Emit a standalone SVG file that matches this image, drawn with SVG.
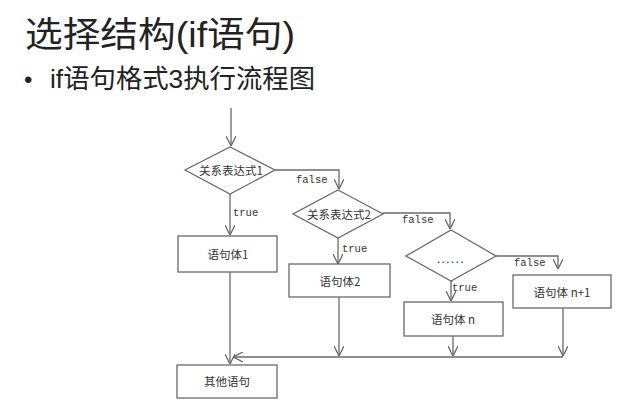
<svg xmlns="http://www.w3.org/2000/svg" width="631" height="417" viewBox="0 0 631 417">
<style>
.title{font-family:"Liberation Sans","Noto Sans CJK SC",sans-serif;fill:#222}
.box{fill:#fff;stroke:#6a6a6a;stroke-width:1.3}
.cn{font-family:"Noto Sans CJK SC",sans-serif;font-size:11.5px;fill:#333;text-anchor:middle;dominant-baseline:central}
.lbl{font-family:"Liberation Mono","Noto Sans CJK SC",monospace;font-size:10.5px;fill:#333}
.ln{fill:none;stroke:#6a6a6a;stroke-width:1.3}
</style>
<defs>
<marker id="ah" viewBox="0 0 10 10" refX="10" refY="5" markerWidth="10" markerHeight="10" markerUnits="userSpaceOnUse" orient="auto">
<path d="M0,0 L10,5 L0,10" fill="none" stroke="#6a6a6a" stroke-width="1.3"/>
</marker>
</defs>
<rect width="631" height="417" fill="#fff"/>
<text class="title" x="25" y="47" font-size="35" textLength="270" lengthAdjust="spacingAndGlyphs">选择结构(if语句)</text>
<text class="title" x="24" y="88" font-size="24">•</text>
<text class="title" x="50" y="88" font-size="26.5" textLength="265" lengthAdjust="spacingAndGlyphs">if语句格式3执行流程图</text>

<g id="connectors">
<line class="ln" x1="231" y1="108" x2="231" y2="146" marker-end="url(#ah)"/>
<line class="ln" x1="230" y1="194" x2="230" y2="235" marker-end="url(#ah)"/>
<polyline class="ln" points="275,170 339,170 339,189" marker-end="url(#ah)"/>
<line class="ln" x1="338" y1="238" x2="338" y2="264" marker-end="url(#ah)"/>
<polyline class="ln" points="383,213 450,213 450,229" marker-end="url(#ah)"/>
<line class="ln" x1="451" y1="281" x2="451" y2="301" marker-end="url(#ah)"/>
<polyline class="ln" points="496,256 558,256 558,269" marker-end="url(#ah)"/>
<line class="ln" x1="230" y1="272" x2="230" y2="364" marker-end="url(#ah)"/>
<line class="ln" x1="339" y1="297" x2="339" y2="356" marker-end="url(#ah)"/>
<line class="ln" x1="453" y1="336" x2="453" y2="356" marker-end="url(#ah)"/>
<line class="ln" x1="563" y1="308" x2="563" y2="356" marker-end="url(#ah)"/>
<line class="ln" x1="563" y1="357" x2="233" y2="357" marker-end="url(#ah)"/>
<text class="lbl" x="233" y="216">true</text>
<text class="lbl" x="296" y="183">false</text>
<text class="lbl" x="342" y="252">true</text>
<text class="lbl" x="402" y="223">false</text>
<text class="lbl" x="452" y="291">true</text>
<text class="lbl" x="514" y="266">false</text>
</g>

<g id="cond1">
<polygon class="box" points="230,147 275,170 230,194 185,170"/>
<text class="cn" x="231" y="170">关系表达式1</text>
</g>
<g id="body1">
<rect class="box" x="178" y="236" width="99" height="36"/>
<text class="cn" x="228" y="254">语句体1</text>
</g>
<g id="cond2">
<polygon class="box" points="338,190 383,214 338,238 293,214"/>
<text class="cn" x="339" y="214">关系表达式2</text>
</g>
<g id="body2">
<rect class="box" x="289" y="264" width="101" height="33"/>
<text class="cn" x="340" y="281">语句体2</text>
</g>
<g id="cond3">
<polygon class="box" points="451,230 496,256 451,281 406,256"/>
<text class="cn" x="451" y="258" letter-spacing="1.5">......</text>
</g>
<g id="bodyn">
<rect class="box" x="404" y="302" width="99" height="34"/>
<text class="cn" x="453" y="319">语句体 n</text>
</g>
<g id="bodyn1">
<rect class="box" x="513" y="275" width="98" height="33"/>
<text class="cn" x="562" y="292">语句体 n+1</text>
</g>
<g id="other">
<rect class="box" x="177" y="365" width="100" height="33"/>
<text class="cn" x="227" y="381">其他语句</text>
</g>
</svg>
